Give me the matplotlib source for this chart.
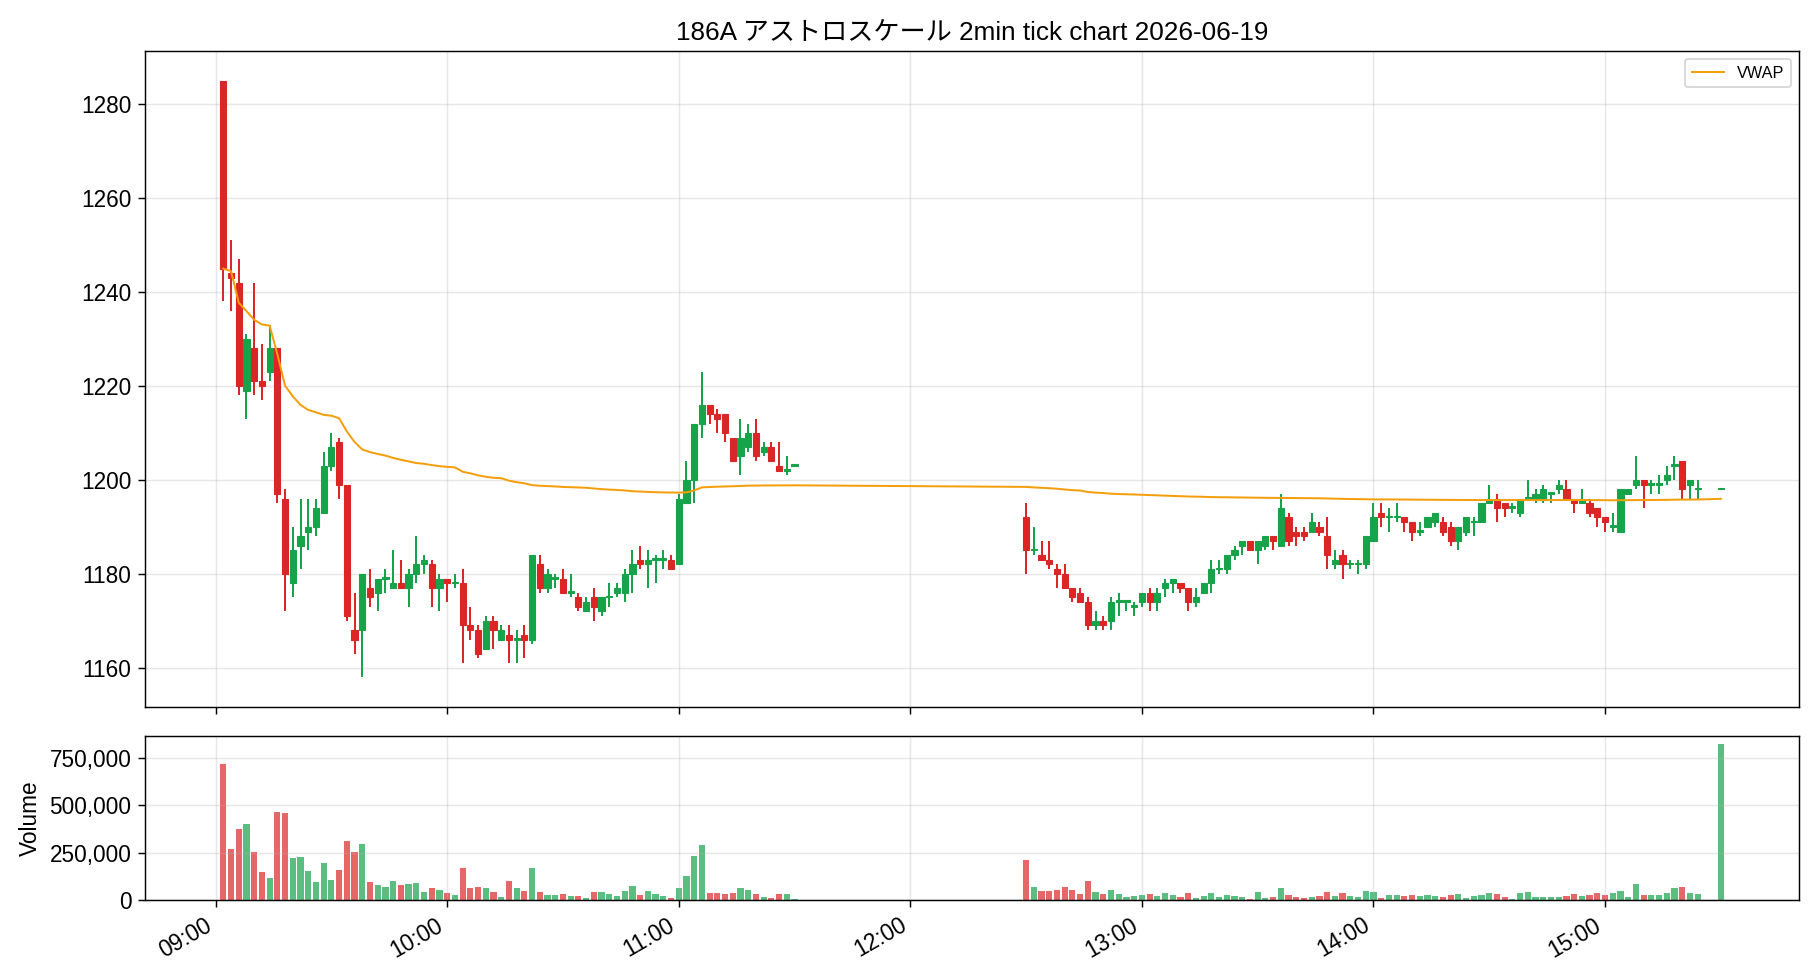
import numpy as np
import pandas as pd
import matplotlib
matplotlib.use('Agg')
import matplotlib.pyplot as plt
import matplotlib.dates as mdates
from matplotlib.ticker import MultipleLocator, FuncFormatter

plt.rcParams['font.family'] = ['Liberation Sans', 'Noto Sans CJK JP', 'DejaVu Sans']
plt.rcParams['font.size'] = 12.5
plt.rcParams['xtick.major.size'] = 4
plt.rcParams['ytick.major.size'] = 4

# 2-minute bars, morning session 09:02-11:30
am_open = [1285, 1244, 1242, 1219, 1228, 1221, 1223, 1228, 1196, 1178, 1186, 1189, 1190, 1193, 1203,
           1208, 1199, 1168, 1168, 1177, 1176, 1179, 1177, 1178, 1177, 1180, 1182, 1182, 1177, 1179,
           1178, 1178, 1169, 1168, 1164, 1170, 1166, 1167, 1166, 1167, 1166, 1182, 1177, 1179, 1179,
           1176, 1175, 1172, 1175, 1172, 1175, 1176, 1176, 1180, 1183, 1182, 1183, 1183, 1183, 1182,
           1195, 1200, 1212, 1216, 1214, 1214, 1209, 1205, 1207, 1210, 1206, 1207, 1203, 1202, 1203]
am_high = [1285, 1251, 1247, 1231, 1242, 1229, 1233, 1228, 1198, 1190, 1196, 1196, 1196, 1206, 1210,
           1209, 1199, 1176, 1180, 1181, 1179, 1181, 1185, 1183, 1181, 1188, 1184, 1183, 1180, 1179,
           1180, 1181, 1173, 1169, 1171, 1171, 1169, 1169, 1168, 1169, 1184, 1184, 1181, 1180, 1181,
           1180, 1176, 1175, 1177, 1175, 1178, 1178, 1181, 1185, 1186, 1185, 1184, 1185, 1184, 1197,
           1204, 1212, 1223, 1216, 1215, 1214, 1209, 1213, 1212, 1213, 1208, 1208, 1208, 1205, 1203]
am_low = [1238, 1236, 1218, 1213, 1218, 1217, 1221, 1195, 1172, 1175, 1181, 1185, 1188, 1193, 1202,
          1196, 1170, 1163, 1158, 1173, 1172, 1176, 1177, 1177, 1173, 1178, 1180, 1173, 1172, 1174,
          1177, 1161, 1166, 1162, 1164, 1164, 1166, 1161, 1161, 1162, 1165, 1176, 1176, 1177, 1176,
          1175, 1172, 1172, 1170, 1171, 1173, 1175, 1174, 1176, 1181, 1177, 1178, 1181, 1181, 1182,
          1195, 1195, 1209, 1212, 1210, 1208, 1204, 1201, 1206, 1204, 1205, 1204, 1202, 1201, 1203]
am_close = [1245, 1243, 1220, 1230, 1221, 1220, 1228, 1197, 1180, 1185, 1188, 1190, 1194, 1203, 1207,
            1199, 1171, 1166, 1180, 1175, 1179, 1179, 1178, 1177, 1180, 1182, 1183, 1177, 1179, 1178,
            1178, 1169, 1168, 1163, 1170, 1168, 1168, 1166, 1166, 1166, 1184, 1177, 1180, 1179, 1176,
            1176, 1173, 1174, 1173, 1175, 1175, 1177, 1180, 1182, 1182, 1183, 1183, 1183, 1181, 1196,
            1200, 1212, 1216, 1214, 1213, 1210, 1204, 1209, 1210, 1205, 1207, 1204, 1202, 1202, 1203]
am_vol = [718000, 268000, 375000, 402000, 252000, 150000, 118000, 466000, 461000, 220000,
          225000, 155000, 96000, 198000, 107000, 161000, 311000, 252000, 295000, 96000,
          80000, 70000, 102000, 80000, 86000, 91000, 43000, 64000, 54000, 38000,
          27000, 171000, 64000, 70000, 64000, 43000, 16000, 102000, 64000, 48000,
          171000, 43000, 27000, 27000, 32000, 21000, 21000, 11000, 43000, 43000,
          32000, 21000, 48000, 75000, 27000, 48000, 32000, 21000, 11000, 64000,
          129000, 230000, 289000, 38000, 38000, 32000, 38000, 64000, 54000, 32000,
          16000, 11000, 32000, 32000, 5000]

# afternoon session 12:30-15:24, then closing auction at 15:30
pm_open = [1192, 1185, 1184, 1183, 1181, 1180, 1177, 1176, 1174, 1169, 1170, 1170, 1174, 1174, 1173,
           1174, 1176, 1174, 1177, 1178, 1178, 1177, 1174, 1176, 1178, 1181, 1181, 1184, 1186, 1187,
           1185, 1186, 1188, 1186, 1192, 1189, 1189, 1189, 1190, 1188, 1182, 1184, 1182, 1182, 1182,
           1187, 1193, 1192, 1192, 1192, 1191, 1189, 1190, 1191, 1191, 1190, 1187, 1189, 1191, 1191,
           1195, 1196, 1195, 1194, 1193, 1196, 1196, 1196, 1197, 1198, 1198, 1196, 1195, 1195, 1194,
           1192, 1190, 1189, 1197, 1199, 1200, 1199, 1199, 1200, 1203, 1204, 1199, 1198, 1198]
pm_high = [1195, 1190, 1187, 1187, 1182, 1182, 1177, 1177, 1175, 1172, 1171, 1175, 1176, 1174, 1174,
           1176, 1177, 1177, 1179, 1179, 1178, 1177, 1177, 1178, 1183, 1183, 1184, 1186, 1187, 1187,
           1187, 1188, 1188, 1197, 1193, 1190, 1190, 1193, 1191, 1192, 1185, 1185, 1183, 1183, 1188,
           1195, 1195, 1194, 1195, 1192, 1191, 1191, 1192, 1193, 1192, 1191, 1190, 1192, 1192, 1195,
           1199, 1197, 1195, 1195, 1196, 1200, 1198, 1199, 1197, 1200, 1200, 1196, 1198, 1196, 1194,
           1192, 1193, 1198, 1198, 1205, 1200, 1200, 1201, 1203, 1205, 1204, 1200, 1200, 1198]
pm_low = [1180, 1184, 1183, 1181, 1177, 1177, 1174, 1174, 1168, 1168, 1168, 1168, 1171, 1172, 1171,
          1173, 1172, 1172, 1175, 1176, 1176, 1172, 1173, 1176, 1176, 1180, 1180, 1183, 1184, 1185,
          1182, 1185, 1185, 1186, 1186, 1186, 1187, 1189, 1188, 1181, 1181, 1179, 1181, 1180, 1181,
          1187, 1190, 1189, 1191, 1189, 1187, 1188, 1190, 1190, 1188, 1186, 1185, 1188, 1188, 1191,
          1195, 1191, 1192, 1193, 1192, 1196, 1195, 1195, 1195, 1197, 1196, 1193, 1195, 1192, 1190,
          1189, 1189, 1189, 1197, 1198, 1194, 1197, 1197, 1199, 1200, 1196, 1196, 1196, 1198]
pm_close = [1185, 1185, 1183, 1182, 1180, 1177, 1175, 1174, 1169, 1170, 1169, 1174, 1174, 1174, 1173,
            1176, 1174, 1176, 1178, 1179, 1177, 1174, 1175, 1178, 1181, 1181, 1184, 1185, 1187, 1185,
            1187, 1188, 1187, 1194, 1187, 1188, 1188, 1191, 1189, 1184, 1183, 1182, 1182, 1182, 1188,
            1192, 1192, 1192, 1192, 1191, 1189, 1189, 1192, 1193, 1189, 1187, 1190, 1192, 1191, 1195,
            1196, 1194, 1194, 1194, 1196, 1196, 1197, 1198, 1197, 1199, 1196, 1195, 1196, 1193, 1192,
            1191, 1190, 1198, 1198, 1200, 1199, 1199, 1199, 1201, 1203, 1198, 1200, 1198, 1198]
pm_vol = [214000, 70000, 48000, 48000, 54000, 70000, 54000, 32000, 102000, 43000,
          32000, 54000, 32000, 16000, 21000, 27000, 32000, 21000, 38000, 27000,
          16000, 38000, 11000, 21000, 38000, 16000, 27000, 21000, 16000, 5000,
          43000, 11000, 16000, 64000, 27000, 16000, 11000, 16000, 21000, 43000,
          21000, 38000, 21000, 16000, 48000, 43000, 11000, 27000, 27000, 21000,
          27000, 21000, 27000, 21000, 16000, 27000, 32000, 11000, 21000, 27000,
          38000, 32000, 16000, 5000, 38000, 43000, 16000, 16000, 16000, 16000,
          21000, 32000, 21000, 27000, 38000, 27000, 38000, 48000, 16000, 86000,
          27000, 27000, 27000, 38000, 64000, 70000, 38000, 32000, 825000]

am_times = pd.date_range('2026-06-19 09:02', '2026-06-19 11:30', freq='2min')
pm_times = pd.date_range('2026-06-19 12:30', '2026-06-19 15:24', freq='2min').append(
    pd.DatetimeIndex(['2026-06-19 15:30']))

t = mdates.date2num(am_times.append(pm_times).to_pydatetime())
o = np.array(am_open + pm_open, dtype=float)
h = np.array(am_high + pm_high, dtype=float)
l = np.array(am_low + pm_low, dtype=float)
c = np.array(am_close + pm_close, dtype=float)
v = np.array(am_vol + pm_vol, dtype=float)

vwap = np.cumsum(c * v) / np.cumsum(v)

up_color = '#16a34a'
down_color = '#dc2626'
colors = np.where(c >= o, up_color, down_color)
width = 1.6 / 1440  # in days

fig = plt.figure(figsize=(14, 7.5385), dpi=130)
ax = fig.add_axes([0.0797, 0.2786, 0.9088, 0.6694])
axv = fig.add_axes([0.0797, 0.0816, 0.9088, 0.1674], sharex=ax)

# candles
ax.vlines(t, l, h, colors=colors, linewidth=1.1, zorder=2)
body_bottom = np.minimum(o, c)
body_h = np.maximum(np.abs(c - o), 0.35)
ax.bar(t, body_h, bottom=body_bottom, width=width, color=colors,
       edgecolor=colors, linewidth=0.6, zorder=3)
ax.plot(t, vwap, color='#f59e0b', linewidth=1.1, label='VWAP', zorder=4)

ax.set_title('186A アストロスケール 2min tick chart 2026-06-19', fontsize=14.5)
ax.yaxis.set_major_locator(MultipleLocator(20))
ax.grid(True, alpha=0.3)
ax.legend(loc='upper right', fontsize=9)
plt.setp(ax.get_xticklabels(), visible=False)

# volume
axv.bar(t, v, width=width, color=colors, alpha=0.7)
axv.set_ylabel('Volume')
axv.yaxis.set_major_locator(MultipleLocator(250000))
axv.yaxis.set_major_formatter(FuncFormatter(lambda x, p: f'{x:,.0f}'))
axv.grid(True, alpha=0.3)
axv.xaxis.set_major_locator(mdates.HourLocator())
axv.xaxis.set_major_formatter(mdates.DateFormatter('%H:%M'))
plt.setp(axv.get_xticklabels(), rotation=30, ha='right')

fig.savefig('out.png', dpi=130)
